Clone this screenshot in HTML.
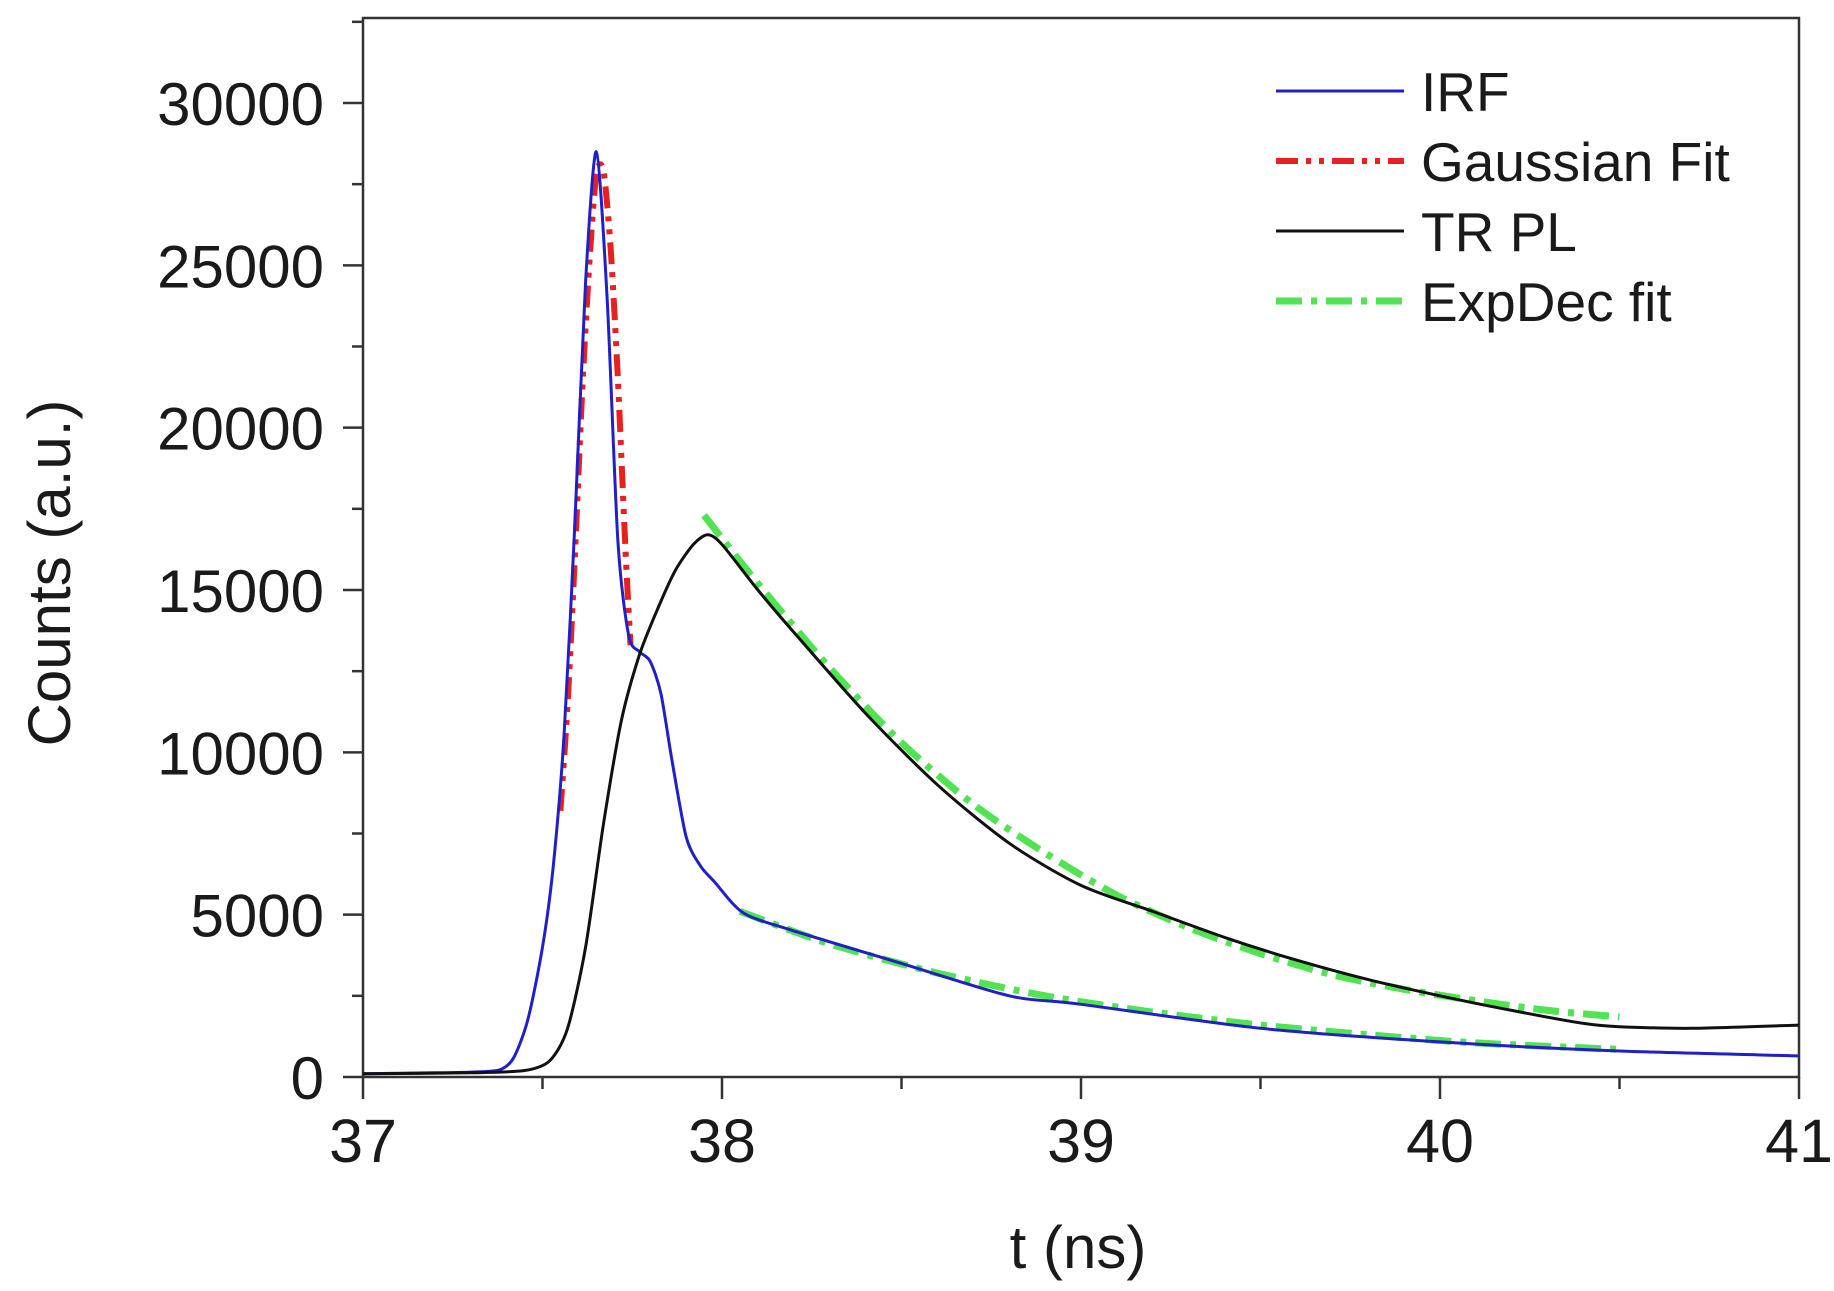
<!DOCTYPE html>
<html><head><meta charset="utf-8"><style>
html,body{margin:0;padding:0;background:#fff}
svg{display:block}
text{font-family:"Liberation Sans",sans-serif;fill:#1a1a1a}
</style></head><body>
<svg id="chart" width="1834" height="1291" viewBox="0 0 1834 1291" xmlns="http://www.w3.org/2000/svg">
<g id="axes"></g>
<g id="series"></g>
<g id="legend"></g>
</svg>
<script>
const xTicks=[37,38,39,40,41];
const yTicks=[0,5000,10000,15000,20000,25000,30000];
const irfT=[37,37.2,37.3,37.38,37.42,37.46,37.5,37.53,37.56,37.59,37.62,37.65,37.68,37.71,37.74,37.77,37.8,37.83,37.86,37.9,37.94,37.98,38.06,38.2,38.5,38.8,39,39.5,40,40.5,41];
const irfV=[100,130,150,220,600,1800,4000,6500,10500,17000,24500,28500,24000,16500,13600,13100,12800,11800,9800,7400,6500,6000,5050,4500,3500,2500,2240,1500,1080,800,650];
const plT=[37,37.3,37.45,37.52,37.57,37.62,37.67,37.72,37.77,37.82,37.87,37.92,37.96,38.0,38.1,38.2,38.4,38.6,38.8,39.0,39.2,39.4,39.6,39.8,40.0,40.2,40.4,40.5,40.7,41];
const plV=[100,130,200,500,1500,4000,7800,11000,13000,14400,15600,16400,16700,16400,15000,13700,11200,9000,7200,5900,5100,4300,3600,3000,2500,2050,1650,1550,1500,1600];
const gaussT=[37.55,37.57,37.59,37.61,37.63,37.65,37.67,37.69,37.71,37.73,37.745];
const gaussV=[8200,11500,16000,21000,25000,27800,27900,25500,21500,16500,13300];
const fitPlT=[37.95,38.1,38.3,38.5,38.7,38.9,39.1,39.3,39.5,39.7,39.9,40.1,40.3,40.5];
const fitPlV=[17300,15200,12600,10300,8400,6900,5600,4600,3800,3150,2700,2350,2050,1850];
const fitIrfT=[38.05,38.3,38.6,38.9,39.2,39.5,39.8,40.1,40.5];
const fitIrfV=[5100,4100,3200,2500,2000,1600,1300,1050,850];

const L=363,R=1799,B=1077,T=18;
const X=t=>L+(t-37)/4*(R-L);
const Y=v=>B-v/30000*(B-103);
const NS="http://www.w3.org/2000/svg";
function mk(tag,attrs,parent){const e=document.createElementNS(NS,tag);for(const k in attrs)e.setAttribute(k,attrs[k]);parent.appendChild(e);return e;}
const ax=document.getElementById('axes'),se=document.getElementById('series'),lg=document.getElementById('legend');

let fr=mk('rect',{x:L,y:T,width:R-L,height:B-T,fill:'none',stroke:'#333','stroke-width':2.5},ax);


xTicks.forEach((t,i)=>{
  let l=mk('line',{x1:X(t),x2:X(t),y1:B,y2:B+22,stroke:'#333','stroke-width':2.5},ax);
  
  
  if(i<xTicks.length-1){let m=mk('line',{x1:X(t+0.5),x2:X(t+0.5),y1:B,y2:B+12,stroke:'#333','stroke-width':2.5},ax);
  
  }
  let tx=mk('text',{x:X(t),y:1162,'text-anchor':'middle','font-size':61},ax);tx.textContent=t;
  
  
});
yTicks.forEach((v,i)=>{
  let l=mk('line',{x1:L-20,x2:L,y1:Y(v),y2:Y(v),stroke:'#333','stroke-width':2.5},ax);
  
  
  let m=mk('line',{x1:L-11,x2:L,y1:Y(v+2500),y2:Y(v+2500),stroke:'#333','stroke-width':2.5},ax);
  
  
  let tx=mk('text',{x:324,y:Y(v)+22,'text-anchor':'end','font-size':60},ax);tx.textContent=v;
  
  
});
let yt=mk('text',{x:0,y:0,'text-anchor':'middle','font-size':60,transform:'translate(70,573) rotate(-90)'},ax);yt.textContent='Counts (a.u.)';


let xt=mk('text',{x:1078,y:1268,'text-anchor':'middle','font-size':60},ax);xt.textContent='t (ns)';



function path(ts,vs){
  const p=ts.map((t,i)=>[X(t),Y(vs[i])]);
  let d='M'+p[0][0].toFixed(1)+','+p[0][1].toFixed(1);
  for(let i=0;i<p.length-1;i++){
    const p0=p[Math.max(0,i-1)],p1=p[i],p2=p[i+1],p3=p[Math.min(p.length-1,i+2)];
    const k=1/6*0.8;
    const c1=[p1[0]+(p2[0]-p0[0])*k,p1[1]+(p2[1]-p0[1])*k];
    const c2=[p2[0]-(p3[0]-p1[0])*k,p2[1]-(p3[1]-p1[1])*k];
    d+=' C'+c1[0].toFixed(1)+','+c1[1].toFixed(1)+' '+c2[0].toFixed(1)+','+c2[1].toFixed(1)+' '+p2[0].toFixed(1)+','+p2[1].toFixed(1);
  }
  return d;
}
const styles={
 irf:{stroke:'#2020c8','stroke-width':3,fill:'none','stroke-linejoin':'round'},
 pl:{stroke:'#111','stroke-width':3,fill:'none','stroke-linejoin':'round'},
 gauss:{stroke:'#e82020','stroke-width':6,fill:'none','stroke-dasharray':'22 8 5 8 5 8'},
 fit:{stroke:'#3ee03e','stroke-width':7,fill:'none','stroke-dasharray':'26 9 6 9','opacity':0.9}
};
let p;
p=mk('path',Object.assign({d:path(fitIrfT,fitIrfV)},styles.fit),se);


p=mk('path',Object.assign({d:path(fitPlT,fitPlV)},styles.fit),se);


p=mk('path',Object.assign({d:path(gaussT,gaussV)},styles.gauss),se);


p=mk('path',Object.assign({d:path(irfT,irfV)},styles.irf),se);


p=mk('path',Object.assign({d:path(plT,plV)},styles.pl),se);



const legNames=['IRF','Gaussian Fit','TR PL','ExpDec fit'];
const legKeys=['irf','gauss','pl','fit'];
legNames.forEach((n,i)=>{
  const y=91+i*70;
  let l=mk('line',Object.assign({x1:1276,x2:1404,y1:y,y2:y},styles[legKeys[i]]),lg);
  
  
  let tx=mk('text',{x:1421,y:y+20,'font-size':55},lg);tx.textContent=n;
  
  
});
</script>
</body></html>
